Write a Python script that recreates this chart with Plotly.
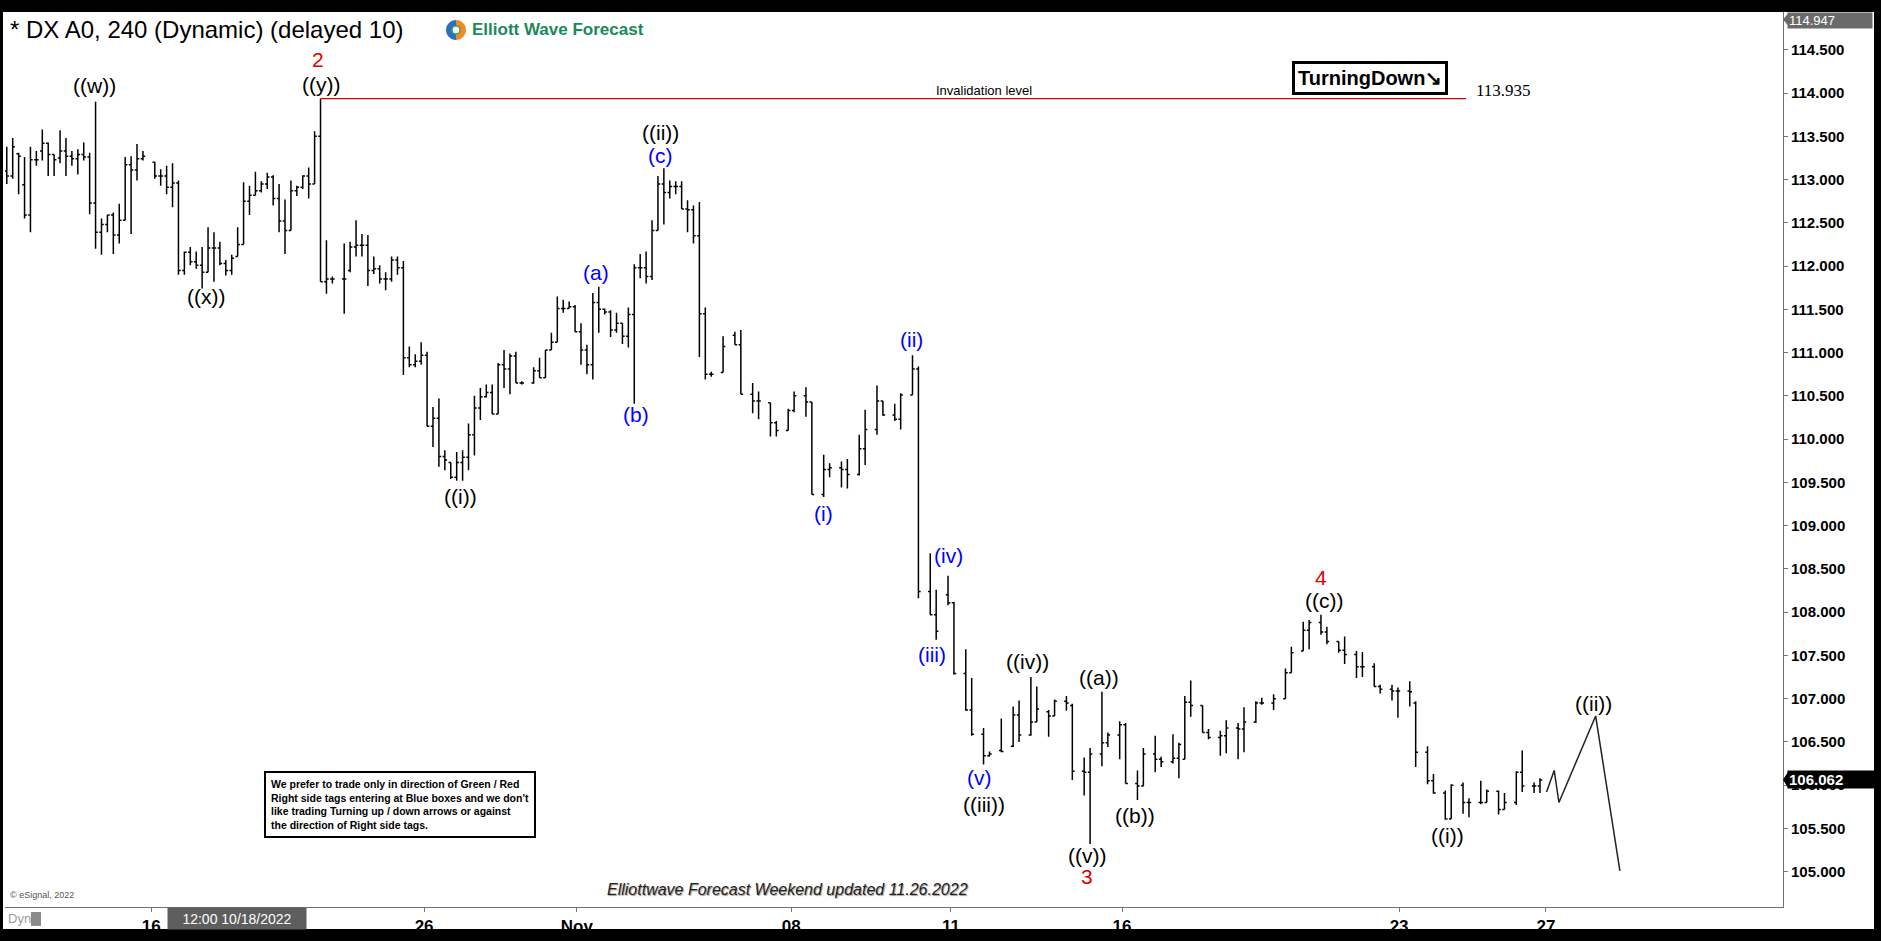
import plotly.graph_objects as go

# ---------------- data (bar slot = 4-hour bar index) ----------------
bar_slot = [0, 1, 2, 3, 4, 5, 6, 7, 8, 9, 10, 11, 12, 13, 14, 15, 16, 17, 18, 19, 20, 21, 22, 23,
            25, 26, 27, 28, 29, 30, 31, 32, 33, 34, 35, 36, 37, 38, 39, 40, 41, 42, 43, 44, 45, 46,
            47, 48, 49, 50, 51, 52, 53, 54, 55,
            57, 58, 59, 60, 61, 62, 63, 64, 65, 66,
            67, 68, 69, 70, 71, 72, 73, 74, 75, 76, 77, 78, 79, 80, 81, 82, 83, 84, 85, 86, 87,
            89, 90, 91, 92, 93, 94, 95, 96, 97, 98, 99, 100, 101, 102, 103, 104, 105, 106, 107,
            108, 109, 110, 111, 112, 113, 114, 115, 116, 117, 118, 119, 121, 123, 124, 126, 127,
            129, 130, 132,
            133, 135, 136, 138, 139, 141, 142, 144, 145, 147, 148, 150, 151, 153, 154, 156, 157,
            159, 160, 162, 163, 165, 166, 168, 170, 171, 173, 174, 176, 177, 179, 180, 182, 183,
            185, 186, 188, 189, 191, 192, 194, 195, 197, 198,
            199, 200, 202, 203, 205, 206, 208, 209, 211, 212, 214, 216, 217, 219, 220, 222, 223,
            225, 226, 228, 229, 231, 232, 234, 235, 237, 238, 240, 241, 243, 244, 246, 247, 249,
            250, 252, 253, 255, 256, 258, 259]

bar_open = [113.10, 113.04, 113.30, 112.94, 112.59, 113.23, 113.33, 113.42, 113.29, 113.25, 113.33, 113.27,
            113.24, 113.29, 113.26, 112.73, 112.39, 112.48, 112.59, 112.36, 112.53, 113.17, 113.11, 113.24,
            113.20, 113.04, 113.04, 112.91, 112.96, 111.95, 112.16, 112.05, 112.01, 111.93, 112.21, 112.21,
            112.03, 111.95, 112.11, 112.25, 112.75, 112.82, 112.87, 112.95, 113.03, 112.78, 112.52, 112.41,
            112.87, 112.91, 113.04, 112.95, 113.50, 111.82, 111.85,
            111.85, 111.95, 112.22, 112.24, 112.24, 111.95, 111.97, 111.85, 111.85, 112.07,
            111.98, 110.94, 110.86, 110.90, 110.97, 110.15, 110.24, 109.80, 109.73, 109.56, 109.73, 109.79,
            110.05, 110.36, 110.49, 110.54, 110.29, 110.86, 110.81, 110.96, 110.65,
            110.65, 110.79, 110.71, 111.03, 111.12, 111.51, 111.51, 111.53, 111.24, 111.03, 110.86, 111.58,
            111.50, 111.47, 111.26, 111.34, 111.19, 111.44, 111.98, 111.98, 111.88, 112.41, 112.95, 112.85,
            112.92, 112.92, 112.66, 112.65, 112.35, 111.45, 110.75, 110.77, 111.20, 111.09, 110.52, 110.44,
            110.42, 110.19, 110.10,
            110.33, 110.50, 110.43, 109.36, 109.65, 109.67, 109.65, 109.59, 109.89, 110.11, 110.44, 110.28,
            110.23, 110.51, 110.81, 108.24, 107.97, 108.20, 108.11, 107.29, 106.87, 106.59, 106.34, 106.40,
            106.45, 106.81, 106.58, 106.73, 106.85, 106.80, 106.97, 106.92, 106.16, 106.15, 106.36, 106.49,
            106.58, 106.70, 106.02, 105.99, 106.36, 106.30, 106.27, 106.31,
            106.30, 106.96, 106.92, 106.61, 106.55, 106.57, 106.66, 106.65, 106.73, 106.95, 106.95, 107.00,
            107.30, 107.55, 107.79, 107.88, 107.77, 107.66, 107.56, 107.51, 107.37, 107.37, 107.14, 107.11,
            107.09, 107.09, 106.95, 106.38, 106.05, 105.91, 105.61, 106.00, 105.80, 105.80, 105.80, 105.93,
            105.72, 105.80, 106.15, 105.99, 105.99]

bar_high = [113.38, 113.48, 113.31, 113.26, 113.38, 113.33, 113.58, 113.43, 113.29, 113.57, 113.48, 113.33,
            113.35, 113.43, 113.31, 113.90, 112.55, 112.59, 112.62, 112.72, 113.26, 113.27, 113.41, 113.33,
            113.21, 113.12, 113.16, 113.19, 112.99, 112.17, 112.22, 112.17, 112.22, 112.45, 112.39, 112.28,
            112.07, 112.13, 112.45, 112.97, 112.93, 113.09, 112.98, 113.08, 113.05, 112.95, 112.77, 112.99,
            112.93, 113.05, 113.14, 113.56, 113.935, 112.30, 111.88,
            112.26, 112.28, 112.53, 112.37, 112.36, 112.11, 112.01, 111.93, 112.11, 112.11,
            112.06, 111.07, 110.98, 111.12, 111.01, 110.37, 110.47, 109.87, 109.73, 109.85, 109.87, 110.18,
            110.50, 110.59, 110.63, 110.63, 110.88, 111.03, 110.99, 111.01, 110.67,
            110.83, 110.94, 111.03, 111.23, 111.65, 111.61, 111.59, 111.55, 111.34, 111.09, 111.69, 111.76,
            111.51, 111.49, 111.46, 111.34, 111.52, 112.02, 112.14, 112.17, 112.53, 113.04, 113.13, 112.99,
            112.98, 112.98, 112.76, 112.70, 112.74, 111.52, 110.78, 111.19, 111.24, 111.26, 110.65, 110.55,
            110.42, 110.21, 110.35,
            110.55, 110.60, 110.43, 109.82, 109.72, 109.74, 109.77, 110.05, 110.34, 110.62, 110.44, 110.41,
            110.53, 110.97, 110.84, 108.68, 108.26, 108.42, 108.12, 107.57, 107.24, 106.66, 106.39, 106.77,
            106.91, 106.98, 107.25, 107.14, 106.87, 106.99, 107.03, 106.94, 106.32, 106.43, 107.08, 106.61,
            106.74, 106.72, 106.17, 106.43, 106.57, 106.33, 106.59, 106.49,
            107.03, 107.21, 106.92, 106.65, 106.63, 106.75, 106.72, 106.90, 106.97, 107.01, 107.05, 107.35,
            107.60, 107.89, 107.91, 107.97, 107.83, 107.66, 107.72, 107.55, 107.54, 107.41, 107.16, 107.16,
            107.13, 107.20, 106.97, 106.45, 106.13, 105.94, 106.01, 106.03, 105.85, 106.05, 105.95, 105.94,
            105.91, 106.16, 106.40, 106.03, 106.08]

bar_low = [112.95, 113.01, 112.83, 112.55, 112.39, 113.16, 113.22, 113.04, 113.04, 113.19, 113.04, 113.16,
           113.06, 113.22, 112.60, 112.20, 112.13, 112.39, 112.14, 112.26, 112.53, 112.37, 112.99, 113.22,
           113.01, 112.93, 112.83, 112.68, 111.90, 111.90, 112.01, 111.97, 111.74, 111.93, 111.82, 112.01,
           111.89, 111.90, 112.11, 112.25, 112.59, 112.82, 112.85, 112.89, 112.70, 112.39, 112.14, 112.41,
           112.81, 112.89, 112.78, 112.95, 111.82, 111.68, 111.80,
           111.45, 111.93, 112.11, 112.11, 111.77, 111.91, 111.80, 111.72, 111.82, 111.90,
           110.74, 110.83, 110.83, 110.86, 110.15, 109.91, 109.68, 109.64, 109.54, 109.52, 109.52, 109.64,
           109.81, 110.22, 110.48, 110.29, 110.29, 110.59, 110.52, 110.65, 110.63,
           110.64, 110.71, 110.71, 111.03, 111.12, 111.46, 111.51, 111.24, 110.86, 110.75, 110.69, 111.23,
           111.44, 111.18, 111.23, 111.10, 111.06, 110.41, 111.86, 111.80, 111.84, 112.41, 112.48, 112.78,
           112.83, 112.66, 112.39, 112.26, 110.95, 110.69, 110.72, 110.77, 111.09, 110.52, 110.30, 110.23,
           110.03, 110.03, 110.10,
           110.31, 110.26, 109.36, 109.33, 109.56, 109.44, 109.43, 109.58, 109.70, 110.05, 110.27, 110.21,
           110.11, 110.51, 108.16, 107.97, 107.68, 108.08, 107.28, 106.86, 106.57, 106.24, 106.33, 106.38,
           106.44, 106.50, 106.57, 106.73, 106.56, 106.80, 106.86, 106.06, 105.88, 105.32, 106.22, 106.44,
           106.30, 106.02, 105.83, 105.99, 106.15, 106.21, 106.25, 106.08,
           106.30, 106.79, 106.61, 106.53, 106.34, 106.37, 106.30, 106.38, 106.72, 106.93, 106.87, 107.00,
           107.30, 107.55, 107.57, 107.74, 107.63, 107.53, 107.40, 107.24, 107.25, 107.14, 107.06, 106.98,
           106.78, 106.91, 106.21, 106.01, 105.90, 105.60, 105.61, 105.67, 105.63, 105.78, 105.80, 105.66,
           105.72, 105.77, 105.92, 105.91, 105.91]

bar_close = [113.04, 113.38, 113.27, 112.59, 113.23, 113.23, 113.42, 113.29, 113.23, 113.33, 113.27, 113.24,
             113.29, 113.26, 112.73, 112.39, 112.48, 112.59, 112.36, 112.53, 113.17, 113.11, 113.24, 113.27,
             113.04, 113.04, 112.91, 112.96, 111.95, 112.16, 112.05, 112.01, 111.93, 112.21, 112.21, 112.03,
             111.95, 112.09, 112.25, 112.75, 112.82, 112.87, 112.95, 113.03, 112.78, 112.52, 112.41, 112.87,
             112.91, 113.04, 112.95, 113.50, 111.82, 111.85, 111.85,
             111.85, 112.22, 112.24, 112.24, 111.95, 111.97, 111.85, 111.85, 112.07, 111.98,
             110.94, 110.86, 110.90, 110.97, 110.15, 110.24, 109.80, 109.76, 109.56, 109.73, 109.79, 110.05,
             110.36, 110.49, 110.54, 110.29, 110.86, 110.81, 110.96, 110.65, 110.65,
             110.79, 110.71, 111.03, 111.12, 111.51, 111.51, 111.53, 111.24, 111.03, 110.86, 111.58, 111.50,
             111.47, 111.26, 111.34, 111.19, 111.44, 111.98, 111.98, 111.88, 112.41, 112.95, 112.85, 112.92,
             112.92, 112.66, 112.65, 112.35, 111.45, 110.75, 110.75, 111.07, 111.09, 110.52, 110.44, 110.44,
             110.19, 110.10, 110.33,
             110.50, 110.43, 109.36, 109.65, 109.67, 109.65, 109.59, 109.89, 110.11, 110.44, 110.28, 110.23,
             110.51, 110.81, 108.24, 107.97, 107.78, 108.11, 107.29, 106.87, 106.59, 106.34, 106.36, 106.39,
             106.81, 106.58, 106.73, 106.88, 106.80, 106.97, 106.95, 106.16, 106.15, 106.36, 106.49, 106.58,
             106.70, 106.02, 105.99, 106.36, 106.30, 106.27, 106.31, 106.47,
             106.96, 106.92, 106.61, 106.55, 106.57, 106.66, 106.65, 106.73, 106.95, 106.95, 107.00, 107.30,
             107.53, 107.79, 107.88, 107.77, 107.66, 107.56, 107.51, 107.37, 107.37, 107.14, 107.11, 107.09,
             107.09, 107.08, 106.38, 106.05, 105.91, 105.61, 106.00, 105.80, 105.80, 105.80, 105.93, 105.72,
             105.80, 106.15, 105.99, 105.99, 106.06]

# projected path
proj_x = [260.1, 261.4, 262.2, 268.4, 272.5]
proj_y = [105.92, 106.17, 105.80, 106.80, 105.01]

# invalidation level
inval_level = 113.935
inval_x = [53, 246.5]
last_price = 106.062
top_price = 114.947

# axis ticks
y_ticks = [105.0, 105.5, 106.0, 106.5, 107.0, 107.5, 108.0, 108.5, 109.0, 109.5, 110.0,
           110.5, 111.0, 111.5, 112.0, 112.5, 113.0, 113.5, 114.0, 114.5]
x_tick_slots = [24.4, 70.5, 96.3, 132.5, 159.5, 188.4, 235.2, 260.0]
x_tick_text = ["16", "26", "Nov", "08", "11", "16", "23", "27"]

# wave labels (text, slot, price)
black_labels = [("((w))", 14.8, 114.09), ("((y))", 53.0, 114.10), ("((x))", 33.7, 111.65),
                ("((i))", 76.6, 109.34), ("((ii))", 110.4, 113.55), ("((iii))", 165.1, 105.78),
                ("((iv))", 172.5, 107.43), ("((a))", 184.5, 107.24), ("((b))", 190.6, 105.65),
                ("((v))", 182.5, 105.19), ("((c))", 222.5, 108.13), ("((i))", 243.3, 105.42),
                ("((ii))", 268.1, 106.94)]
blue_labels = [("(a)", 99.5, 111.93), ("(b)", 106.3, 110.29), ("(c)", 110.4, 113.28),
               ("(i)", 137.9, 109.14), ("(ii)", 152.9, 111.15), ("(iii)", 156.3, 107.51),
               ("(iv)", 159.0, 108.65), ("(v)", 164.4, 106.09)]
red_labels = [("2", 52.6, 114.39), ("3", 182.5, 104.94), ("4", 222.0, 108.40)]

# ---------------- figure ----------------
SANS = "Liberation Sans, Arial, sans-serif"
NARROW = "Liberation Sans Narrow, Arial Narrow, Liberation Sans, Arial, sans-serif"

W, H = 1881, 941
ML, MR, MT, MB = 5, 98, 12, 29
PW, PH = W - ML - MR, H - MT - MB


def px_x(px):
    return (px - ML) / PW


def px_y(py):
    return (H - MB - py) / PH


fig = go.Figure()
fig.add_trace(go.Ohlc(
    x=bar_slot, open=bar_open, high=bar_high, low=bar_low, close=bar_close,
    increasing=dict(line=dict(color="black", width=1.5)),
    decreasing=dict(line=dict(color="black", width=1.5)),
    tickwidth=0.38, hoverinfo="skip", showlegend=False))

fig.add_trace(go.Scatter(x=inval_x, y=[inval_level, inval_level], mode="lines",
                         line=dict(color="#d00000", width=1.2), hoverinfo="skip", showlegend=False))
fig.add_trace(go.Scatter(x=proj_x, y=proj_y, mode="lines",
                         line=dict(color="#222222", width=1.5), hoverinfo="skip", showlegend=False))

ann = []
for group, color in ((black_labels, "black"), (blue_labels, "#0000ff"), (red_labels, "#e00000")):
    for t, sx, sy in group:
        ann.append(dict(x=sx, y=sy, xref="x", yref="y", text=t, showarrow=False,
                        xanchor="center", yanchor="middle",
                        font=dict(family=SANS, size=21, color=color)))

ann += [
    dict(x=px_x(8), y=px_y(30), xref="paper", yref="paper", text="* DX A0, 240 (Dynamic) (delayed 10)",
         showarrow=False, xanchor="left", yanchor="middle", font=dict(family=SANS, size=24, color="black")),
    dict(x=px_x(470), y=px_y(30), xref="paper", yref="paper", text="Elliott Wave Forecast",
         showarrow=False, xanchor="left", yanchor="middle",
         font=dict(family=SANS, size=17, color="#1b8a5a", weight="bold")),
    dict(x=165.1, y=114.03, xref="x", yref="y", text="Invalidation level", showarrow=False,
         xanchor="center", yanchor="middle", font=dict(family=SANS, size=13, color="black")),
    dict(x=252.8, y=114.03, xref="x", yref="y", text="113.935", showarrow=False,
         xanchor="center", yanchor="middle", font=dict(family="Liberation Serif, Times New Roman, serif", size=17, color="black")),
    dict(x=230.3, y=114.17, xref="x", yref="y", text="TurningDown↘", showarrow=False,
         xanchor="center", yanchor="middle", bgcolor="white", bordercolor="black", borderwidth=3, borderpad=3,
         font=dict(family=SANS, size=20, color="black", weight="bold")),
    dict(x=px_x(264), y=px_y(775), xref="paper", yref="paper",
         text=("We prefer to trade only in direction of Green / Red<br>"
               "Right side tags entering at Blue boxes and we don't<br>"
               "like trading Turning up / down arrows or against<br>"
               "the direction of Right side tags."),
         showarrow=False, xanchor="left", yanchor="top", align="left", bgcolor="white",
         bordercolor="black", borderwidth=2, borderpad=5,
         font=dict(family=SANS, size=10.5, color="black", weight="bold")),
    dict(x=px_x(8), y=px_y(900), xref="paper", yref="paper", text="© eSignal, 2022", showarrow=False,
         xanchor="left", yanchor="middle", font=dict(family=SANS, size=9, color="#555555")),
    dict(x=px_x(787), y=px_y(894), xref="paper", yref="paper",
         text="<i>Elliottwave Forecast Weekend updated 11.26.2022</i>", showarrow=False,
         xanchor="center", yanchor="middle",
         font=dict(family=NARROW, size=16, color="#222222", shadow="1px 1px 1px #9a9a9a")),
    dict(x=px_x(237), y=px_y(924), xref="paper", yref="paper", text="12:00 10/18/2022", showarrow=False,
         xanchor="center", yanchor="middle", bgcolor="#5e5e5e", borderpad=3, width=132, height=15,
         font=dict(family=NARROW, size=14, color="white")),
    dict(x=px_x(6), y=px_y(924), xref="paper", yref="paper", text="Dyn", showarrow=False,
         xanchor="left", yanchor="middle", font=dict(family=NARROW, size=13, color="#9a9a9a")),
    dict(x=1.0, y=1.0, xref="paper", yref="paper", text=f"{top_price:.3f}", showarrow=False,
         xanchor="left", yanchor="top", xshift=4, bgcolor="#6a6a6a", borderpad=1, width=82, height=13,
         align="left", font=dict(family=SANS, size=13, color="white")),
    dict(x=1.0, y=last_price, xref="paper", yref="y", text=f"{last_price:.3f}", showarrow=False,
         xanchor="left", yanchor="middle", xshift=4, bgcolor="black", borderpad=1, width=84, height=15,
         align="left", font=dict(family=SANS, size=15, color="white", weight="bold")),
]

k = 0.5523
shapes = [
    # white axis panels
    dict(type="rect", xref="paper", yref="paper", x0=px_x(3), x1=px_x(1874), y0=px_y(934), y1=1.0,
         fillcolor="white", line=dict(width=0), layer="below"),
    # price tag arrows
    dict(type="path", xref="paper", yref="paper", xsizemode="pixel", ysizemode="pixel",
         xanchor=1.0, yanchor=px_y(19.5), path="M 0,0 L 5,6 L 5,-6 Z",
         fillcolor="#6a6a6a", line=dict(width=0)),
    dict(type="path", xref="paper", yref="y", xsizemode="pixel", ysizemode="pixel",
         xanchor=1.0, yanchor=last_price, path="M 0,0 L 5,8 L 5,-8 Z",
         fillcolor="black", line=dict(width=0)),
    # Dyn lock icon
    dict(type="rect", xref="paper", yref="paper", x0=px_x(31), x1=px_x(41), y0=px_y(931), y1=px_y(917),
         fillcolor="#8a8a8a", line=dict(width=0)),
    # logo icon
    dict(type="path", xref="paper", yref="paper", xsizemode="pixel", ysizemode="pixel",
         xanchor=px_x(456), yanchor=px_y(30),
         path=f"M 0,-10 C {-10*k},-10 -10,{-10*k} -10,0 C -10,{10*k} {-10*k},10 0,10 Z",
         fillcolor="#2a6fc0", line=dict(width=0)),
    dict(type="path", xref="paper", yref="paper", xsizemode="pixel", ysizemode="pixel",
         xanchor=px_x(456), yanchor=px_y(30),
         path=f"M 0,-10 C {10*k},-10 10,{-10*k} 10,0 C 10,{10*k} {10*k},10 0,10 Z",
         fillcolor="#f08a24", line=dict(width=0)),
    dict(type="circle", xref="paper", yref="paper", xsizemode="pixel", ysizemode="pixel",
         xanchor=px_x(456), yanchor=px_y(30), x0=-4, x1=4, y0=-4, y1=4,
         fillcolor="white", line=dict(color="#3aa65a", width=1.5)),
]

fig.update_layout(
    width=W, height=H, margin=dict(l=ML, r=MR, t=MT, b=MB, pad=0),
    paper_bgcolor="black", plot_bgcolor="white", showlegend=False,
    annotations=ann, shapes=shapes,
    xaxis=dict(range=[-0.3, 300.05], tickmode="array", tickvals=x_tick_slots, ticktext=x_tick_text,
               ticks="outside", ticklen=4, tickcolor="#777777", showgrid=False, zeroline=False,
               showline=True, linecolor="#6f6f6f", linewidth=1,
               tickfont=dict(family=NARROW, size=17, color="black", weight="bold"),
               rangeslider=dict(visible=False), fixedrange=True),
    yaxis=dict(side="right", range=[104.592, 114.937], tickmode="array", tickvals=y_ticks,
               tickformat=".3f", ticks="outside", ticklen=4, tickcolor="#777777",
               showgrid=False, zeroline=False, showline=True, linecolor="#6f6f6f", linewidth=1,
               tickfont=dict(family=SANS, size=15, color="black", weight="bold"), fixedrange=True),
)

fig.write_html("out.html", config={"displayModeBar": False},
               post_script="document.body.style.margin='0';document.body.style.overflow='hidden';")
